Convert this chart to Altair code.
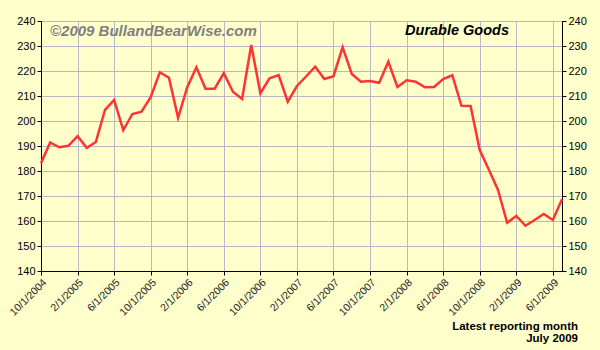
import altair as alt
import pandas as pd

# Monthly categories Oct 2004 .. Jul 2009
months = [f"{d.month}/1/{d.year}" for d in pd.date_range("2004-10-01", "2009-07-01", freq="MS")]

values = [
    183.1, 191.4, 189.5, 190.1, 193.9, 189.3, 191.6, 204.4, 208.4, 196.4,
    202.8, 203.7, 209.5, 219.5, 217.3, 201.3, 213.5, 221.5, 212.9, 212.9,
    219.1, 211.7, 208.8, 230.4, 211.1, 217.1, 218.4, 207.7, 214.0, 217.8,
    221.7, 216.8, 217.9, 229.5, 218.8, 215.7, 216.0, 215.3, 223.7, 213.6,
    216.3, 215.7, 213.5, 213.6, 216.8, 218.3, 206.1, 206.0, 188.4, 180.5,
    172.4, 159.3, 162.0, 158.1, 160.4, 162.8, 160.4, 168.7,
]

tick_labels = months[::4]
y_ticks = list(range(140, 241, 10))

df = pd.DataFrame({"month": months, "value": values})

FONT = "Liberation Sans"

x_enc = alt.X(
    "month:N",
    sort=None,
    scale=alt.Scale(type="point", padding=0),
    axis=alt.Axis(
        values=tick_labels,
        labelAngle=-45,
        labelFont=FONT,
        labelFontSize=10.5,
        labelColor="#222222",
        tickColor="black",
        tickSize=4,
        domainColor="black",
        gridColor="#B8B8C4",
        gridWidth=1,
        grid=True,
        title=None,
        labelPadding=2,
    ),
)

y_scale = alt.Scale(domain=[140, 240], nice=False, zero=False)

left = alt.Chart(df).mark_line(color="#FF3333", strokeWidth=2.5).encode(
    x=x_enc,
    y=alt.Y(
        "value:Q",
        scale=y_scale,
        axis=alt.Axis(
            values=y_ticks,
            orient="left",
            labelFont=FONT,
            labelFontSize=11,
            labelColor="black",
            tickColor="black",
            tickSize=4,
            domainColor="black",
            gridColor="#B8B8C4",
            grid=True,
            title=None,
            labelPadding=2,
        ),
    ),
)

right = alt.Chart(df).mark_line(opacity=0).encode(
    x=x_enc,
    y=alt.Y(
        "value:Q",
        scale=y_scale,
        axis=alt.Axis(
            values=y_ticks,
            orient="right",
            labelFont=FONT,
            labelFontSize=11,
            labelColor="black",
            tickColor="black",
            tickSize=4,
            domainColor="black",
            grid=False,
            title=None,
            labelPadding=2,
        ),
    ),
)

copyright_txt = alt.Chart(pd.DataFrame({"t": ["©2009 BullandBearWise.com"]})).mark_text(
    font=FONT, fontSize=15, fontWeight="bold", fontStyle="italic",
    color="#808080", align="left", baseline="middle",
).encode(text="t:N", x=alt.value(9), y=alt.value(10))

title_txt = alt.Chart(pd.DataFrame({"t": ["Durable Goods"]})).mark_text(
    font=FONT, fontSize=14.5, fontWeight="bold", fontStyle="italic",
    color="black", align="right", baseline="middle",
).encode(text="t:N", x=alt.value(468), y=alt.value(10))

note1 = alt.Chart(pd.DataFrame({"t": ["Latest reporting month"]})).mark_text(
    font=FONT, fontSize=11.5, fontWeight="bold", color="black",
    align="right", baseline="alphabetic",
).encode(text="t:N", x=alt.value(537), y=alt.value(309))

note2 = alt.Chart(pd.DataFrame({"t": ["July 2009"]})).mark_text(
    font=FONT, fontSize=11.5, fontWeight="bold", color="black",
    align="right", baseline="alphabetic",
).encode(text="t:N", x=alt.value(537), y=alt.value(321))

chart = (
    alt.layer(left, right, copyright_txt, title_txt, note1, note2)
    .resolve_scale(y="independent")
    .properties(
        width=521,
        height=250,
        autosize=alt.AutoSizeParams(type="none"),
        padding={"left": 41, "top": 21, "right": 38, "bottom": 79},
        background="#FFFFCC",
    )
    .configure_view(fill="#FFFFCC", stroke="black", strokeWidth=1)
)

chart.save("out.html", embed_options={"renderer": "svg", "actions": False})
